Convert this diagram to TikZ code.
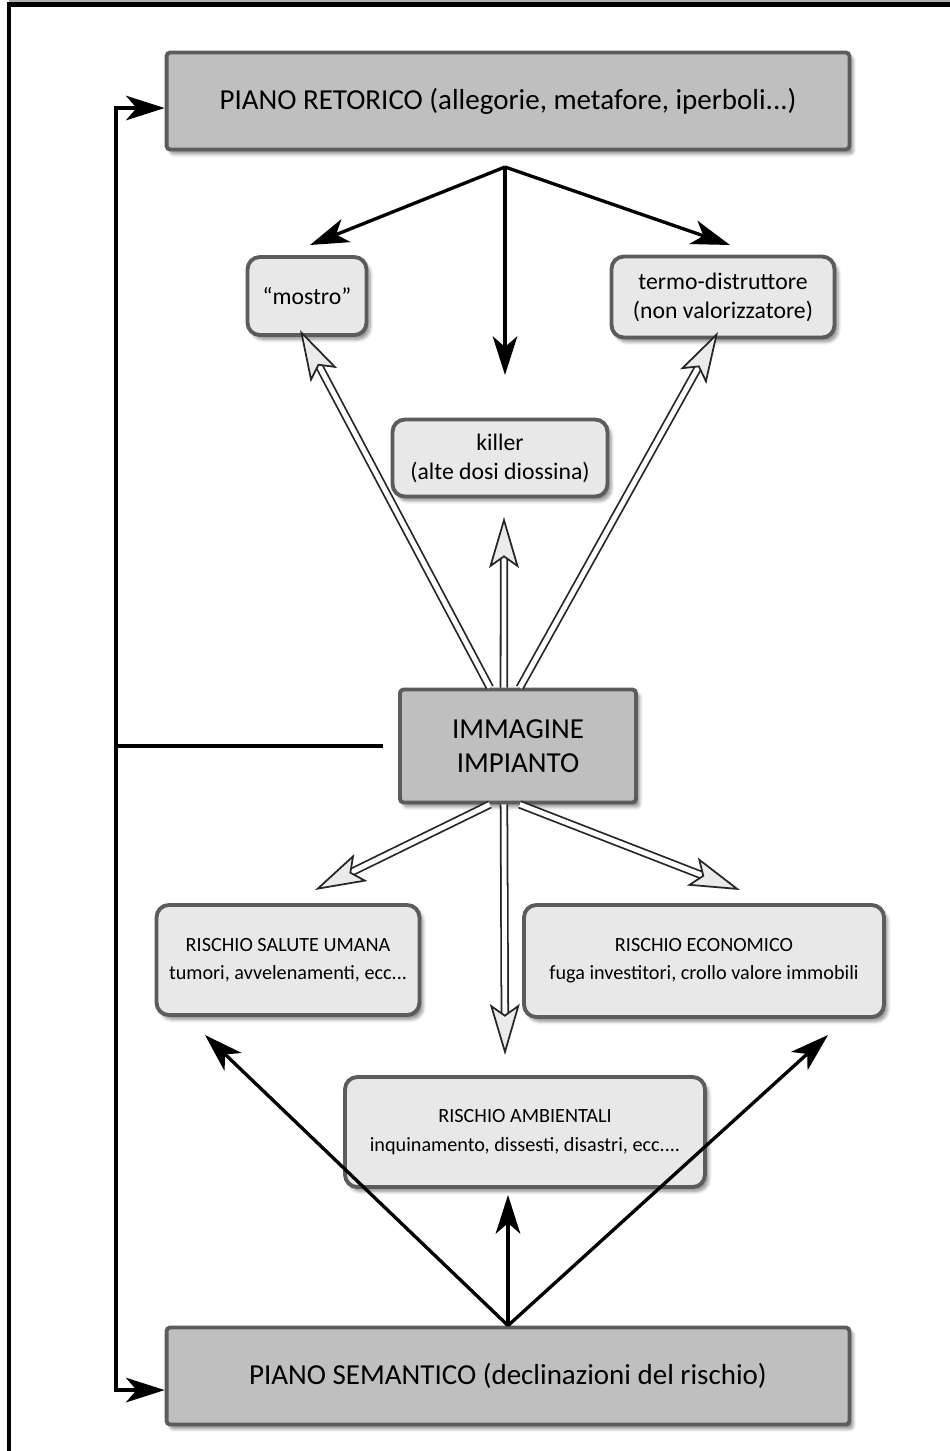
\documentclass[tikz,border=0pt]{standalone}
\usepackage{fontspec}
\setmainfont{Carlito}
\usetikzlibrary{arrows.meta,shadows.blur}

\tikzset{
  sombra/.style={blur shadow={shadow xshift=2pt, shadow yshift=-2.5pt, shadow blur steps=6, shadow opacity=45}},
  piano/.style={draw=black!64, line width=2.2pt, fill=black!25, rounded corners=2pt, sombra, align=center},
  concetto/.style={draw=black!64, line width=2.2pt, fill=black!9, rounded corners=7pt, sombra, align=center},
  frecc/.style={line width=1.9pt, -{Stealth[length=22pt, width=14pt, inset=6pt]}},
  doble/.style={draw=black!85, line width=1pt, double=white, double distance=2.8pt,
    -{Stealth[length=29pt, width=17pt, inset=6pt, open, fill=black!8, line width=1pt]}}
}

\begin{document}
\begin{tikzpicture}[x=0.02cm, y=-0.02cm]
  \useasboundingbox (0,0) rectangle (950,1451);

  % Marco
  \fill[black!30] (9,0) rectangle (950,1.5);
  \draw[line width=2.8pt] (9,1451) -- (9,4.5) -- (950,4.5);

  % Planos
  \node[piano, minimum width=13.66cm, minimum height=1.94cm, font=\fontsize{16.5}{19}\selectfont] (ret) at (508,101)
    {PIANO RETORICO (allegorie, metafore, iperboli...)};
  \node[piano, minimum width=13.66cm, minimum height=1.94cm, font=\fontsize{16.5}{19}\selectfont] (sem) at (508,1376)
    {PIANO SEMANTICO (declinazioni del rischio)};
  \node[piano, minimum width=4.72cm, minimum height=2.26cm, font=\fontsize{16.5}{19}\selectfont] (img) at (518,746)
    {IMMAGINE\\IMPIANTO};

  % Conceptos
  \node[concetto, minimum width=2.38cm, minimum height=1.56cm, font=\fontsize{13.5}{16.5}\selectfont] (mostro) at (307,296) {“mostro”};
  \node[concetto, minimum width=4.46cm, minimum height=1.62cm, font=\fontsize{13.5}{16.5}\selectfont] (termo) at (723,297)
    {termo-distruttore\\(non valorizzatore)};
  \node[concetto, minimum width=4.30cm, minimum height=1.54cm, font=\fontsize{13.5}{16.5}\selectfont] (killer) at (500,458)
    {killer\\(alte dosi diossina)};
  \node[concetto, minimum width=5.26cm, minimum height=2.20cm, font=\fontsize{11.5}{16}\selectfont] (salute) at (288,960)
    {RISCHIO SALUTE UMANA\\tumori, avvelenamenti, ecc...};
  \node[concetto, minimum width=7.20cm, minimum height=2.24cm, font=\fontsize{11.5}{16}\selectfont] (econ) at (704,961)
    {RISCHIO ECONOMICO\\fuga investitori, crollo valore immobili};
  \node[concetto, minimum width=7.20cm, minimum height=2.20cm, font=\fontsize{11.5}{16}\selectfont] (amb) at (525,1132)
    {RISCHIO AMBIENTALI\\inquinamento, dissesti, disastri, ecc....};

  % Puntos libres
  \coordinate (rs) at (505,167);
  \coordinate (mo) at (310,245);
  \coordinate (ki) at (505,375);
  \coordinate (te) at (730,245);
  \coordinate (mo2) at (300,330);
  \coordinate (ki2) at (504,517);
  \coordinate (te2) at (718,332);
  \coordinate (sa) at (315,890);
  \coordinate (am) at (505,1055);
  \coordinate (ec) at (740,890);
  \coordinate (sa2) at (205,1035);
  \coordinate (am2) at (508,1195);
  \coordinate (ec2) at (828,1035);
  \coordinate (spine) at (116,0);
  \coordinate (imgl) at ([xshift=-8.5pt]img.west);
  \coordinate (retin) at ([yshift=-4pt]ret.west);
  \coordinate (semin) at ([yshift=-8pt]sem.west);

  % Flechas del plano retorico
  \foreach \e in {mo,ki,te}
    \draw[frecc] (rs) -- (\e);

  % Flechas dobles de la imagen
  \draw[doble] ([xshift=-16pt]img.north) -- (mo2);
  \draw[doble] ([xshift=-8pt]img.north) -- (ki2);
  \draw[doble] ([xshift=1pt]img.north) -- (te2);
  \draw[doble] ([xshift=-16pt]img.south) -- (sa);
  \draw[doble] ([xshift=-8pt]img.south) -- (am);
  \draw[doble] ([xshift=1pt]img.south) -- (ec);

  % Flechas del plano semantico
  \foreach \e in {sa2,am2,ec2}
    \draw[frecc] (sem.north) -- (\e);

  % Linea lateral
  \draw[line width=1.9pt] (imgl) -- (imgl -| spine);
  \draw[frecc] (semin -| spine) |- (retin);
  \draw[frecc] (spine |- imgl) |- (semin);
\end{tikzpicture}
\end{document}
